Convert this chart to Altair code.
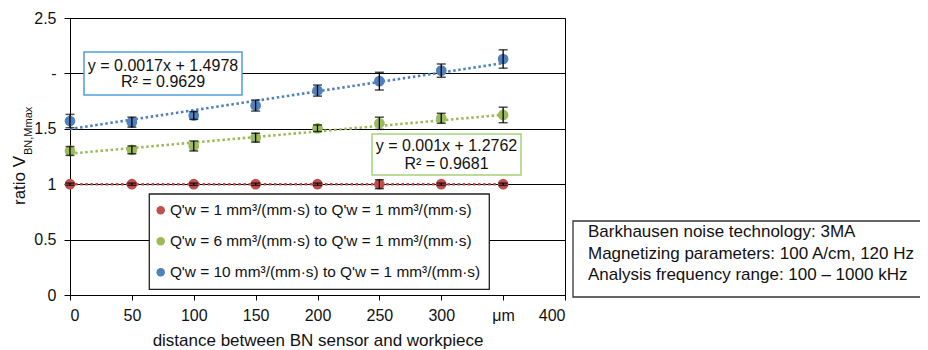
import altair as alt
import pandas as pd

# ---------------- data ----------------
distance = [0, 50, 100, 150, 200, 250, 300, 350]
series_names = [
    "Q'w = 1 mm³/(mm·s) to Q'w = 1 mm³/(mm·s)",
    "Q'w = 6 mm³/(mm·s) to Q'w = 1 mm³/(mm·s)",
    "Q'w = 10 mm³/(mm·s) to Q'w = 1 mm³/(mm·s)",
]
ratio_q1 = [1.0, 1.0, 1.0, 1.0, 1.0, 1.0, 1.0, 1.0]
err_q1 = [0.01, 0.01, 0.01, 0.01, 0.01, 0.04, 0.01, 0.01]
ratio_q6 = [1.30, 1.31, 1.345, 1.42, 1.505, 1.55, 1.595, 1.625]
err_q6 = [0.04, 0.035, 0.045, 0.04, 0.03, 0.055, 0.045, 0.07]
ratio_q10 = [1.57, 1.56, 1.62, 1.71, 1.845, 1.93, 2.025, 2.13]
err_q10 = [0.06, 0.045, 0.035, 0.05, 0.05, 0.08, 0.06, 0.083]

trend_slope = [0.0, 0.001, 0.0017]
trend_intercept = [1.0, 1.2762, 1.4978]
trend_x = [0, 350]

x_ticks = [0, 50, 100, 150, 200, 250, 300, 350, 400]
y_ticks = [0, 0.5, 1, 1.5, 2, 2.5]

colors = ["#C0504D", "#9BBB59", "#4F81BD"]
FONT = "Liberation Sans"

# ---------------- tables ----------------
rows = []
for name, vals, errs in zip(series_names, [ratio_q1, ratio_q6, ratio_q10], [err_q1, err_q6, err_q10]):
    for d, v, e in zip(distance, vals, errs):
        rows.append({"series": name, "distance": d, "ratio": v, "lo": v - e, "hi": v + e})
df = pd.DataFrame(rows)

trows = []
for name, m, b in zip(series_names, trend_slope, trend_intercept):
    for xx in trend_x:
        trows.append({"trend": name, "distance": xx, "ratio": m * xx + b})
tdf = pd.DataFrame(trows)

xscale = alt.Scale(domain=[0, 400], nice=False, zero=False)
yscale = alt.Scale(domain=[0, 2.5], nice=False)

xenc = alt.X(
    "distance:Q", scale=xscale,
    axis=alt.Axis(
        values=x_ticks, labelExpr="datum.value == 350 ? 'μm' : datum.label",
        title="distance between BN sensor and workpiece", grid=False,
    ),
)
yenc = alt.Y(
    "ratio:Q", scale=yscale,
    axis=alt.Axis(
        values=y_ticks, labelExpr="datum.value == 2 ? '-' : format(datum.value, '')",
        title=None, grid=True,
    ),
)

base = alt.Chart(df)
one = alt.Chart(pd.DataFrame({"k": [0]}))

# legend frame (legend itself has no frame so that its padding can be uneven)
legend_box = one.mark_rect(fill="white", stroke="#222", strokeWidth=1.3).encode(
    x=alt.value(79.3), x2=alt.value(419.3), y=alt.value(176), y2=alt.value(271.3)
)

points = base.mark_point(filled=True, shape="circle", size=115, opacity=1).encode(
    x=xenc, y=yenc,
    color=alt.Color(
        "series:N", scale=alt.Scale(domain=series_names, range=colors), sort=series_names,
        legend=alt.Legend(title=None, orient="none", legendX=83, legendY=184.5, symbolType="circle"),
    ),
)

trend = alt.Chart(tdf).mark_line(strokeWidth=2.6, strokeDash=[2.5, 2.6]).encode(
    x=alt.X("distance:Q", scale=xscale),
    y=alt.Y("ratio:Q", scale=yscale),
    stroke=alt.Stroke("trend:N", scale=alt.Scale(domain=series_names, range=colors), legend=None),
    detail="trend:N",
)

err_rule = base.mark_rule(color="black", strokeWidth=1.3).encode(
    x=alt.X("distance:Q", scale=xscale), y=alt.Y("lo:Q", scale=yscale), y2="hi:Q"
)
cap_lo = base.mark_tick(orient="horizontal", size=9, thickness=1.5, color="black").encode(
    x=alt.X("distance:Q", scale=xscale), y=alt.Y("lo:Q", scale=yscale)
)
cap_hi = base.mark_tick(orient="horizontal", size=9, thickness=1.5, color="black").encode(
    x=alt.X("distance:Q", scale=xscale), y=alt.Y("hi:Q", scale=yscale)
)

# equation boxes
blue_box = one.mark_rect(fill="white", stroke="#4F9FD8", strokeWidth=1.5).encode(
    x=alt.value(14), x2=alt.value(172), y=alt.value(34), y2=alt.value(77)
)
blue_t1 = one.mark_text(font=FONT, fontSize=16, color="#111", align="center", baseline="middle").encode(
    x=alt.value(93), y=alt.value(47.5), text=alt.value("y = 0.0017x + 1.4978")
)
blue_t2 = one.mark_text(font=FONT, fontSize=16, color="#111", align="center", baseline="middle").encode(
    x=alt.value(93), y=alt.value(64), text=alt.value("R² = 0.9629")
)
green_box = one.mark_rect(fill="white", stroke="#A6D27A", strokeWidth=1.5).encode(
    x=alt.value(302), x2=alt.value(451), y=alt.value(116), y2=alt.value(157)
)
green_t1 = one.mark_text(font=FONT, fontSize=16, color="#111", align="center", baseline="middle").encode(
    x=alt.value(376.5), y=alt.value(128), text=alt.value("y = 0.001x + 1.2762")
)
green_t2 = one.mark_text(font=FONT, fontSize=16, color="#111", align="center", baseline="middle").encode(
    x=alt.value(376.5), y=alt.value(145.5), text=alt.value("R² = 0.9681")
)

# info box at right
info_box = one.mark_rect(fill="white", stroke="#333", strokeWidth=1.3).encode(
    x=alt.value(503), x2=alt.value(880), y=alt.value(203), y2=alt.value(279)
)
info_lines = [
    "Barkhausen noise technology: 3MA",
    "Magnetizing parameters: 100 A/cm, 120 Hz",
    "Analysis frequency range: 100 – 1000 kHz",
]
info_texts = [
    one.mark_text(font=FONT, fontSize=17, color="#111", align="left", baseline="middle").encode(
        x=alt.value(518), y=alt.value(yy), text=alt.value(t)
    )
    for t, yy in zip(info_lines, [213.5, 235.5, 257])
]

# y-axis title with subscript
ytitle = one.mark_text(font=FONT, fontSize=17, color="#111", angle=270, align="left", baseline="middle").encode(
    x=alt.value(-50), y=alt.value(187), text=alt.value("ratio V")
)
ysub = one.mark_text(font=FONT, fontSize=11, color="#111", angle=270, align="left", baseline="middle").encode(
    x=alt.value(-41), y=alt.value(137), text=alt.value("BN,Mmax")
)

chart = alt.layer(
    legend_box, points, trend, err_rule, cap_lo, cap_hi,
    blue_box, blue_t1, blue_t2, green_box, green_t1, green_t2,
    info_box, *info_texts, ytitle, ysub,
).resolve_scale(
    color="independent", stroke="independent"
).properties(
    width=495, height=277,
    padding={"left": 62, "top": 10, "right": 355, "bottom": 55},
    autosize=alt.AutoSizeParams(type="none"),
    background="white",
).configure_view(
    stroke="black", strokeWidth=1
).configure_axis(
    labelFont=FONT, titleFont=FONT, labelFontSize=16, titleFontSize=17,
    labelColor="#111", titleColor="#111", titleFontWeight="normal",
    domainColor="black", tickColor="black", gridColor="black", gridWidth=1,
    domainWidth=1, tickWidth=1,
).configure_axisX(
    tickSize=5, labelPadding=7, titlePadding=9,
).configure_axisY(
    tickSize=6, labelPadding=8,
).configure_legend(
    padding=0, labelFont=FONT, labelFontSize=15.4,
    labelColor="#111", symbolType="circle", symbolSize=72, symbolStrokeWidth=0,
    rowPadding=14, labelOffset=1.5, labelLimit=0, symbolOpacity=1,
)

chart.save("out.html", embed_options={"renderer": "svg", "actions": False})
